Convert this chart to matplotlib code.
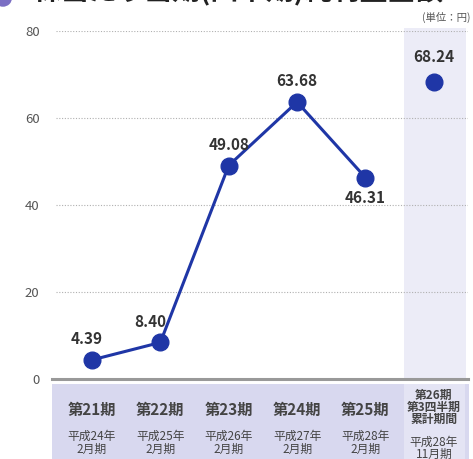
import matplotlib.pyplot as plt
from matplotlib.patches import Rectangle
import matplotlib.transforms as mtransforms

plt.rcParams['font.family'] = ['Noto Sans CJK JP', 'DejaVu Sans']

# data
periods = ["第21期", "第22期", "第23期", "第24期", "第25期", "第26期\n第3四半期\n累計期間"]
dates = ["平成24年\n2月期", "平成25年\n2月期", "平成26年\n2月期", "平成27年\n2月期", "平成28年\n2月期", "平成28年\n11月期"]
eps = [4.39, 8.40, 49.08, 63.68, 46.31, 68.24]
title = "1株当たり当期(四半期)純利益金額"
unit = "(単位：円)"

W, H = 473, 459
fig = plt.figure(figsize=(W / 100, H / 100), dpi=100)
fig.patch.set_facecolor("white")

# axes placed by pixel bounds
left, right, top, bottom = 52, 468, 31, 379
ax = fig.add_axes([left / W, (H - bottom) / H, (right - left) / W, (bottom - top) / H])
ax.set_xlim(-0.585, 5.5)
ax.set_ylim(0, 80)
for s in ax.spines.values():
    s.set_visible(False)
ax.set_xticks([])
ax.set_yticks([0, 20, 40, 60, 80])
ax.tick_params(axis="y", length=0, pad=9, labelsize=9.5, labelcolor="#555555")

blend = mtransforms.blended_transform_factory(ax.transData, ax.transAxes)

# highlighted column for the quarter
ax.add_patch(Rectangle((4.56, 0), 0.91, 1.008, transform=blend, facecolor="#ececf7",
                       edgecolor="none", zorder=0, clip_on=False))

# gridlines
for v in [20, 40, 60, 80]:
    ax.axhline(v, xmin=0.01, xmax=1, color="#b0b0b0", lw=0.8, ls=(0, (1, 1.5)), zorder=1)
ax.axhline(0, color="#999999", lw=2.2, zorder=2, clip_on=False)

# line + points
ax.plot(range(5), eps[:5], color="#1f36a6", lw=2.2, marker="o", ms=12, zorder=3, clip_on=False)
ax.plot([5], [eps[5]], color="#1f36a6", marker="o", ms=12, ls="none", zorder=3)

offsets = [(-4, 9), (-7, 9), (0, 9), (0, 9), (0, -9), (0, 12)]
for i, v in enumerate(eps):
    ax.annotate(f"{v:.2f}", (i, v), xytext=offsets[i], textcoords="offset points",
                ha="center", va="top" if offsets[i][1] < 0 else "bottom",
                fontsize=11, fontweight="bold", color="#333333")

# bottom category band
band_top = -(384 - bottom) / (bottom - top)
band_bot = -(H - bottom) / (bottom - top)
ax.add_patch(Rectangle((-0.585, band_bot), 6.1, band_top - band_bot, transform=blend,
                       facecolor="#d8d8ef", edgecolor="none", clip_on=False, zorder=0))
ax.add_patch(Rectangle((4.56, band_bot), 0.9, band_top - band_bot, transform=blend,
                       facecolor="#e4e4f4", edgecolor="none", clip_on=False, zorder=0))

def ay(py):
    return -(py - bottom) / (bottom - top)

for i in range(5):
    ax.text(i, ay(410), periods[i], transform=blend, ha="center", va="center",
            fontsize=11, fontweight="bold", color="#444444")
    ax.text(i, ay(443), dates[i], transform=blend, ha="center", va="center",
            fontsize=8.5, color="#444444", linespacing=0.95)
ax.text(5, ay(407), periods[5], transform=blend, ha="center", va="center",
        fontsize=8.5, fontweight="bold", color="#444444", linespacing=0.9)
ax.text(5, ay(448), dates[5], transform=blend, ha="center", va="center",
        fontsize=8.5, color="#444444", linespacing=0.9)

# unit and cut-off title
fig.text(470 / W, 1 - 17 / H, unit, ha="right", va="center", fontsize=7.5, color="#555555")
fig.text(18 / W, 1 + 1 / H, title, ha="left", va="baseline", fontsize=20, fontweight="bold", color="#222222")
fig.patches.append(plt.Circle((3 / W, 1 + 2 / H), 9 / W, transform=fig.transFigure,
                              facecolor="#7b6fc4", edgecolor="none"))

fig.savefig("out.png", dpi=100)
